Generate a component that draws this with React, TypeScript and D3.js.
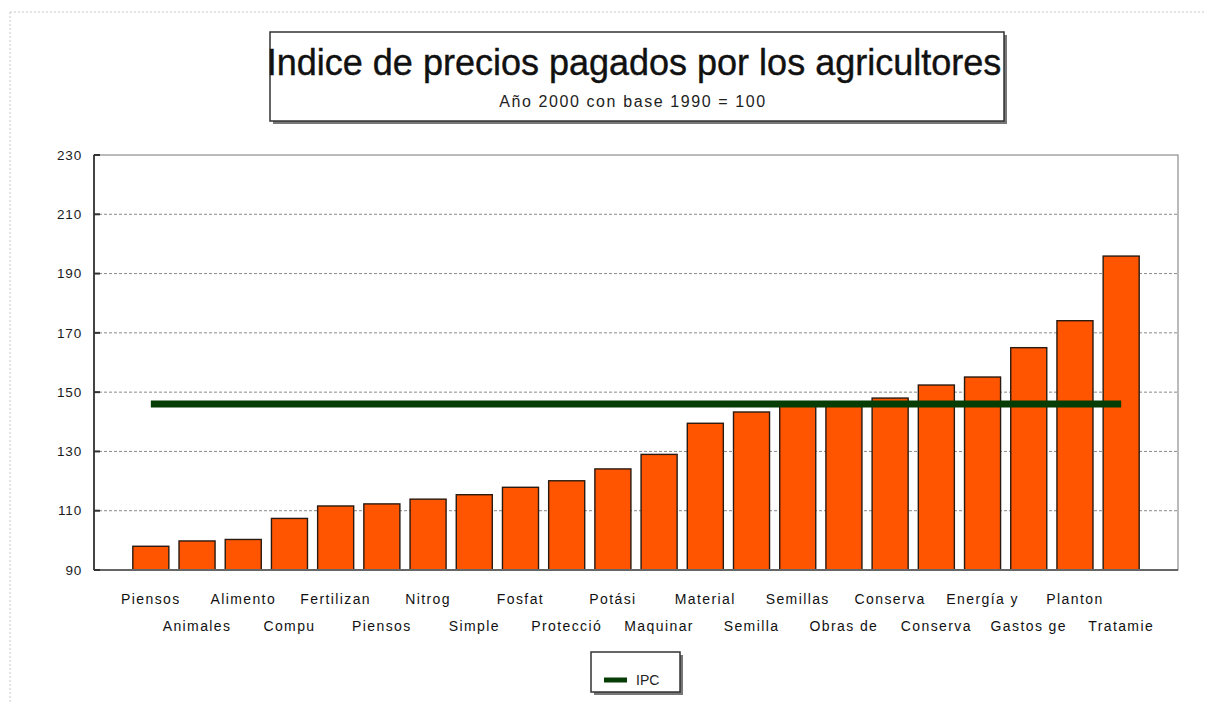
import React from "react";
import * as d3 from "d3";

const categories: string[] = [
  "Piensos", "Animales", "Alimento", "Compu", "Fertilizan", "Piensos",
  "Nitrog", "Simple", "Fosfat", "Protecció", "Potási", "Maquinar",
  "Material", "Semilla", "Semillas", "Obras de", "Conserva", "Conserva",
  "Energía y", "Gastos ge", "Planton", "Tratamie",
];
const values: number[] = [
  98, 99.8, 100.3, 107.4, 111.6, 112.3, 113.9, 115.4, 117.9, 120.1, 124.1,
  129.0, 139.5, 143.3, 146.4, 146.7, 148.0, 152.4, 155.1, 165.0, 174.1, 195.9,
];
const ipcValue = 146;
const yTicks: number[] = [90, 110, 130, 150, 170, 190, 210, 230];
const title = "Indice de precios pagados por los agricultores";
const subtitle = "Año 2000 con base 1990 = 100";
const legendLabel = "IPC";

const W = 1206;
const H = 704;
const plot = { left: 94, right: 1178, top: 155, bottom: 570 };
const FONT = "'Liberation Sans', Arial, sans-serif";

export default function App() {
  const x = d3
    .scaleBand<number>()
    .domain(d3.range(categories.length))
    .range([plot.left, plot.right])
    .paddingInner(0.22)
    .paddingOuter(0.84);
  const y = d3.scaleLinear().domain([90, 230]).range([plot.bottom, plot.top]);

  const firstC = (x(0) as number) + x.bandwidth() / 2;
  const lastC = (x(categories.length - 1) as number) + x.bandwidth() / 2;
  const ipcLine = d3.line<number>()
    .x((d) => d)
    .y(() => y(ipcValue))([firstC, lastC]);

  return (
    <svg width={W} height={H} style={{ position: "absolute", left: 0, top: 0, background: "#fff" }}>
      <rect x={0} y={0} width={W} height={H} fill="#fff" />
      {/* outer chart frame (dotted) */}
      <line x1={10} y1={12} x2={W} y2={12} stroke="#c8c8c8" strokeDasharray="2,2" />
      <line x1={10} y1={12} x2={10} y2={H} stroke="#c8c8c8" strokeDasharray="2,2" />

      {/* title box */}
      <rect x={273} y={35} width={734} height={89} fill="#777" />
      <rect x={270} y={32} width={734} height={89} fill="#fff" stroke="#333" strokeWidth={1.5} />
      <text x={634} y={75} textAnchor="middle" fontFamily={FONT} fontSize={36} fill="#111"
        stroke="#111" strokeWidth={0.4}>{title}</text>
      <text x={633} y={107} textAnchor="middle" fontFamily={FONT} fontSize={16} letterSpacing={1.6}
        fill="#222">{subtitle}</text>

      {/* gridlines */}
      {yTicks.filter((t) => t !== 90 && t !== 230).map((t) => (
        <line key={"g" + t} x1={plot.left} x2={plot.right} y1={y(t)} y2={y(t)}
          stroke="#8a8a8a" strokeWidth={1} strokeDasharray="3,2" />
      ))}
      {/* plot frame */}
      <rect x={plot.left} y={plot.top} width={plot.right - plot.left} height={plot.bottom - plot.top}
        fill="none" stroke="#777" strokeWidth={1} />

      {/* bars */}
      {values.map((v, i) => (
        <rect key={"b" + i} x={x(i)} y={y(v)} width={x.bandwidth()} height={y(90) - y(v)}
          fill="#ff5500" stroke="#2a1a10" strokeWidth={1.4} />
      ))}

      {/* IPC line */}
      <path d={ipcLine ?? ""} stroke="#053d05" strokeWidth={7} fill="none" />

      {/* axes */}
      <line x1={plot.left} x2={plot.left} y1={plot.top} y2={plot.bottom} stroke="#444" strokeWidth={2} />
      <line x1={plot.left} x2={plot.right} y1={plot.bottom} y2={plot.bottom} stroke="#666" strokeWidth={2} />
      {yTicks.map((t) => (
        <g key={"t" + t}>
          <line x1={plot.left} x2={plot.left + 6} y1={y(t)} y2={y(t)} stroke="#333" strokeWidth={2} />
          <text x={82} y={y(t)} dy="0.35em" textAnchor="end" fontFamily={FONT} fontSize={13.5}
            letterSpacing={0.8} fill="#1a1a1a">{t}</text>
        </g>
      ))}

      {/* category labels, staggered on two rows */}
      {categories.map((c, i) => (
        <text key={"c" + i} x={(x(i) as number) + x.bandwidth() / 2} y={i % 2 === 0 ? 604 : 631}
          textAnchor="middle" fontFamily={FONT} fontSize={14} letterSpacing={1.4} fill="#111">{c}</text>
      ))}

      {/* legend */}
      <rect x={594} y={655} width={89} height={40} fill="#777" />
      <rect x={591} y={652} width={89} height={40} fill="#fff" stroke="#333" strokeWidth={1.5} />
      <line x1={604} x2={627} y1={680} y2={680} stroke="#053d05" strokeWidth={5} />
      <text x={636} y={685} fontFamily={FONT} fontSize={14} fill="#222">{legendLabel}</text>
    </svg>
  );
}
